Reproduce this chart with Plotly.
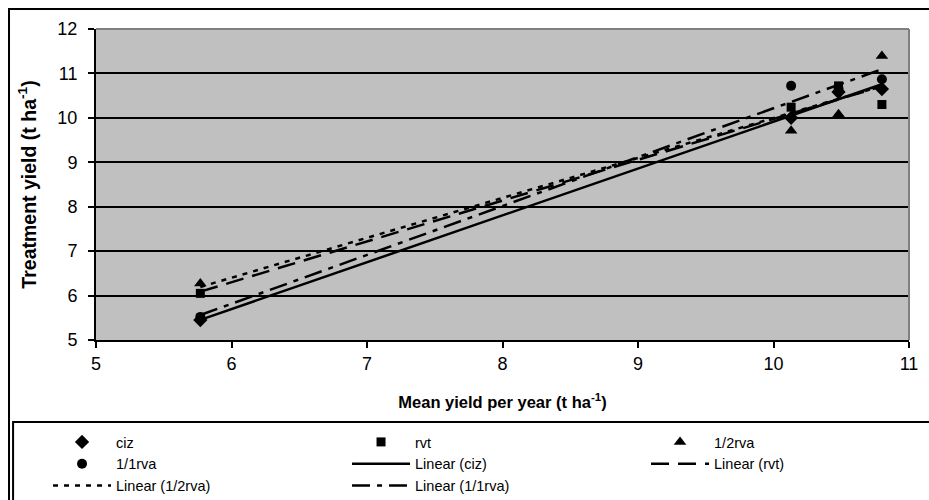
import numpy as np
import plotly.graph_objects as go

# data
mean_yield = [5.77, 10.13, 10.48, 10.80]
ciz = [5.45, 10.00, 10.58, 10.65]
rvt = [6.05, 10.24, 10.72, 10.30]
rva_half = [6.27, 9.71, 10.08, 11.39]
rva_full = [5.52, 10.72, 10.65, 10.87]

series = [
    ("ciz", ciz, "diamond", 11),
    ("rvt", rvt, "square", 9),
    ("1/2rva", rva_half, "triangle-up", 11),
    ("1/1rva", rva_full, "circle", 10),
]
dashes = {"ciz": "solid", "rvt": "18px,9px", "1/2rva": "5px,6px", "1/1rva": "18px,7px,5px,7px"}

fig = go.Figure()
for name, ys, sym, sz in series:
    fig.add_trace(go.Scatter(x=mean_yield, y=ys, mode="markers", name=name,
                             marker=dict(symbol=sym, size=sz, color="black")))
xs = np.array(mean_yield)
xfit = np.array([xs.min(), xs.max()])
for name, ys, sym, sz in series:
    k, b = np.polyfit(xs, np.array(ys), 1)
    fig.add_trace(go.Scatter(x=xfit, y=k * xfit + b, mode="lines", name=f"Linear ({name})",
                             line=dict(color="black", width=2.5, dash=dashes[name])))

regular = "Liberation Sans, Arial, sans-serif"
fig.update_layout(
    width=929, height=500,
    margin=dict(l=96, r=20, t=29, b=160, autoexpand=False),
    paper_bgcolor="white", plot_bgcolor="#C0C0C0",
    font=dict(family=regular, size=18, color="black"),
    showlegend=True,
    legend=dict(orientation="h", x=-0.059, xanchor="left", y=-0.2765, yanchor="top",
                entrywidth=226, itemwidth=58, font=dict(size=14.5, family=regular),
                bgcolor="rgba(0,0,0,0)", tracegroupgap=0),
    xaxis=dict(range=[5, 11], dtick=1, showgrid=False, zeroline=False,
               showline=True, linecolor="black", linewidth=2, mirror=False,
               ticks="outside", ticklen=6, tickcolor="black", tickwidth=1.5,
               tickfont=dict(family=regular, size=18),
               title=dict(text="<b>Mean yield per year (t ha<sup>-1</sup>)</b>",
                          font=dict(family=regular, size=16.5), standoff=24)),
    yaxis=dict(range=[5, 12], dtick=1, showgrid=True, gridcolor="black", gridwidth=1.5, zeroline=False,
               showline=True, linecolor="black", linewidth=2,
               ticks="outside", ticklen=6, tickcolor="black", tickwidth=1.5,
               ticklabelstandoff=7,
               tickfont=dict(family=regular, size=18),
               title=dict(text="<b>Treatment yield (t ha<sup>-1</sup>)</b>",
                          font=dict(family=regular, size=19.5), standoff=16)),
    shapes=[
        dict(type="line", xref="paper", yref="paper", x0=0, x1=1, y0=1, y1=1, line=dict(color="#808080", width=2)),
        dict(type="line", xref="paper", yref="paper", x0=1, x1=1, y0=0, y1=1, line=dict(color="#808080", width=2)),
        dict(type="rect", xref="paper", yref="paper", x0=-0.107, x1=1.06, y0=-0.6, y1=1.064,
             line=dict(color="black", width=2), layer="below"),
        dict(type="rect", xref="paper", yref="paper", x0=-0.102, x1=1.06, y0=-0.6, y1=-0.264,
             line=dict(color="black", width=2), layer="below"),
    ],
)
fig.write_html("out.html", config={"displayModeBar": False},
               post_script="document.body.style.margin='0px';")
